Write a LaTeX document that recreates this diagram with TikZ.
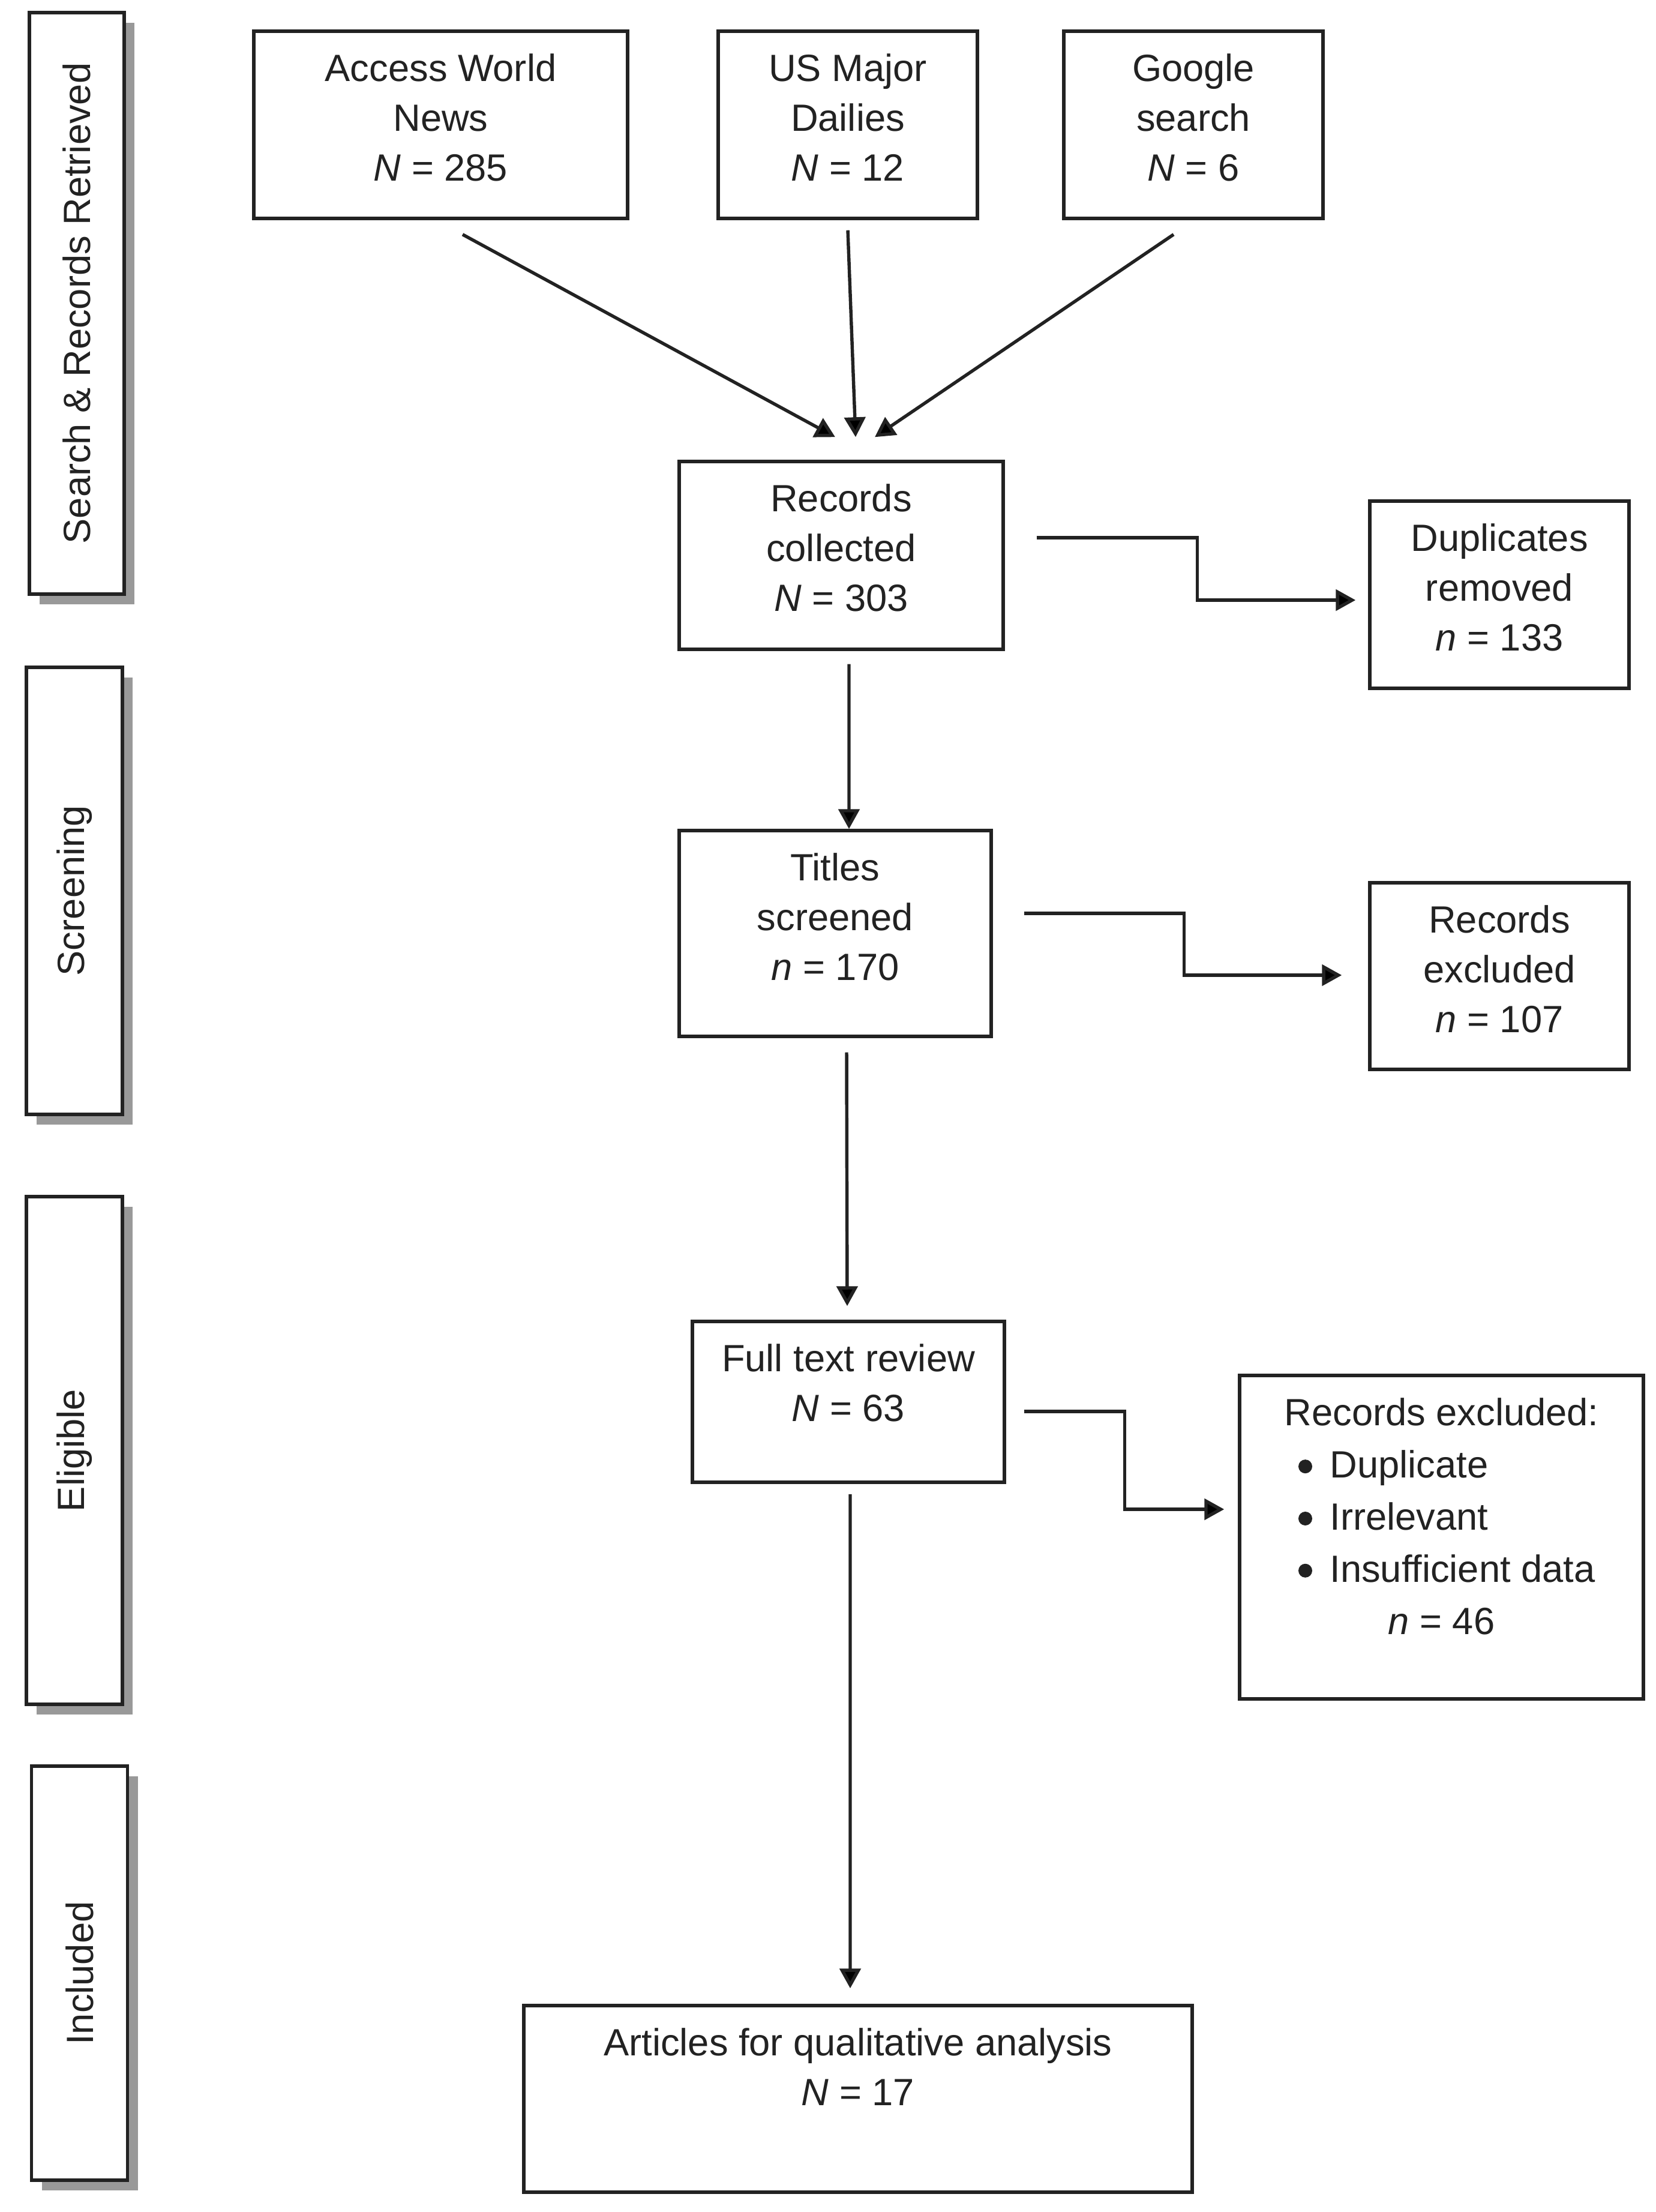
\documentclass[tikz,border=0pt]{standalone}
\usepackage{fontspec}
\setmainfont{Liberation Sans}
\usepackage{graphicx}
\usepackage{tikz}
\usetikzlibrary{arrows.meta,positioning,shadows}

\definecolor{ink}{HTML}{222222}
\definecolor{shade}{HTML}{999999}
\newcommand{\dotmark}{\tikz[baseline=0pt]\fill[ink] (0,0.19) circle (0.115);}
\newcommand{\exitem}[1]{\makebox[5.26cm][l]{\hspace*{0.245cm}\dotmark\hspace{0.295cm}#1}}

\begin{document}
\begin{tikzpicture}[
  font=\fontsize{18}{23.6}\selectfont,
  box/.style={draw=ink, line width=1.55pt, fill=white, inner sep=0pt},
  phase/.style={box, text=ink, drop shadow={shadow xshift=0.17cm, shadow yshift=-0.17cm, fill=shade, opacity=1}},
  txt/.style={text=ink, inner sep=0pt, align=center},
  arr/.style={draw=ink, line width=1.55pt, -{Triangle[length=0.33cm,width=0.35cm]}}
]
\useasboundingbox (0,0) rectangle (27.6,-36.86);

% phases on the left
\node[phase, minimum width=1.58cm, minimum height=9.69cm] (search) at (1.28,-5.055) {\rotatebox{90}{Search \& Records Retrieved}};
\node[phase, minimum width=1.60cm, minimum height=7.45cm] (screen) at (1.24,-14.845) {\rotatebox{90}{Screening}};
\node[phase, minimum width=1.60cm, minimum height=8.46cm] (elig) at (1.24,-24.17) {\rotatebox{90}{Eligible}};
\node[phase, minimum width=1.60cm, minimum height=6.90cm] (incl) at (1.325,-32.88) {\rotatebox{90}{Included}};

% sources
\node[box, minimum width=6.23cm, minimum height=3.12cm] (awn) at (7.345,-2.08) {};
\node[txt, below=0.4cm of awn.north] (awn-t) {Access World\\News\\\textit{N} = 285};
\node[box, minimum width=4.32cm, minimum height=3.12cm] (usd) at (14.13,-2.08) {};
\node[txt, below=0.4cm of usd.north] (usd-t) {US Major\\Dailies\\\textit{N} = 12};
\node[box, minimum width=4.32cm, minimum height=3.12cm] (gsr) at (19.89,-2.08) {};
\node[txt, below=0.4cm of gsr.north] (gsr-t) {Google\\search\\\textit{N} = 6};

% main flow
\node[box, minimum width=5.40cm, minimum height=3.13cm] (rec) at (14.02,-9.255) {};
\node[txt, below=0.4cm of rec.north] (rec-t) {Records\\collected\\\textit{N} = 303};
\node[box, minimum width=5.20cm, minimum height=3.43cm] (tit) at (13.92,-15.555) {};
\node[txt, below=0.4cm of tit.north] (tit-t) {Titles\\screened\\\textit{n} = 170};
\node[box, minimum width=5.20cm, minimum height=2.68cm] (ftr) at (14.14,-23.36) {};
\node[txt, below=0.4cm of ftr.north] (ftr-t) {Full text review\\\textit{N} = 63};
\node[box, minimum width=11.14cm, minimum height=3.11cm] (art) at (14.30,-34.975) {};
\node[txt, below=0.4cm of art.north] (art-t) {Articles for qualitative analysis\\\textit{N} = 17};

% exclusions
\node[box, minimum width=4.32cm, minimum height=3.12cm] (dup) at (24.99,-9.91) {};
\node[txt, below=0.4cm of dup.north] (dup-t) {Duplicates\\removed\\\textit{n} = 133};
\node[box, minimum width=4.32cm, minimum height=3.11cm] (rex) at (24.99,-16.265) {};
\node[txt, below=0.4cm of rex.north] (rex-t) {Records\\excluded\\\textit{n} = 107};
\node[box, minimum width=6.73cm, minimum height=5.39cm] (lst) at (24.025,-25.615) {};
\node[txt, below=0.4cm of lst.north, font=\fontsize{18}{24.7}\selectfont] (lst-t)
  {Records excluded:\\\exitem{Duplicate}\\\exitem{Irrelevant}\\\exitem{Insufficient data}\\\textit{n} = 46};

% arrows
\draw[arr] ([shift={(0.365,-0.24)}]awn.south) -- ([shift={(-0.10,0.38)}]rec.north);
\draw[arr] ([shift={(0,-0.17)}]usd.south) -- ([shift={(0.24,0.38)}]rec.north);
\draw[arr] ([shift={(-0.33,-0.24)}]gsr.south) -- ([shift={(0.56,0.38)}]rec.north);
\draw[arr] ([shift={(0.13,-0.22)}]rec.south) -- ([shift={(0.23,0)}]tit.north);
\draw[arr] ([shift={(0.19,-0.24)}]tit.south) -- ([shift={(-0.02,0.23)}]ftr.north);
\draw[arr] ([shift={(0.03,-0.17)}]ftr.south) -- ([shift={(-0.13,0.26)}]art.north);

\draw[arr] ([shift={(0.53,0.295)}]rec.east) -- ++(2.68,0) |- ([shift={(-0.21,-0.09)}]dup.west);
\draw[arr] ([shift={(0.52,0.335)}]tit.east) -- ++(2.67,0) |- ([shift={(-0.44,0.015)}]rex.west);
\draw[arr] ([shift={(0.30,-0.16)}]ftr.east) -- ++(1.68,0) |- ([shift={(-0.23,0.465)}]lst.west);
\end{tikzpicture}
\end{document}
